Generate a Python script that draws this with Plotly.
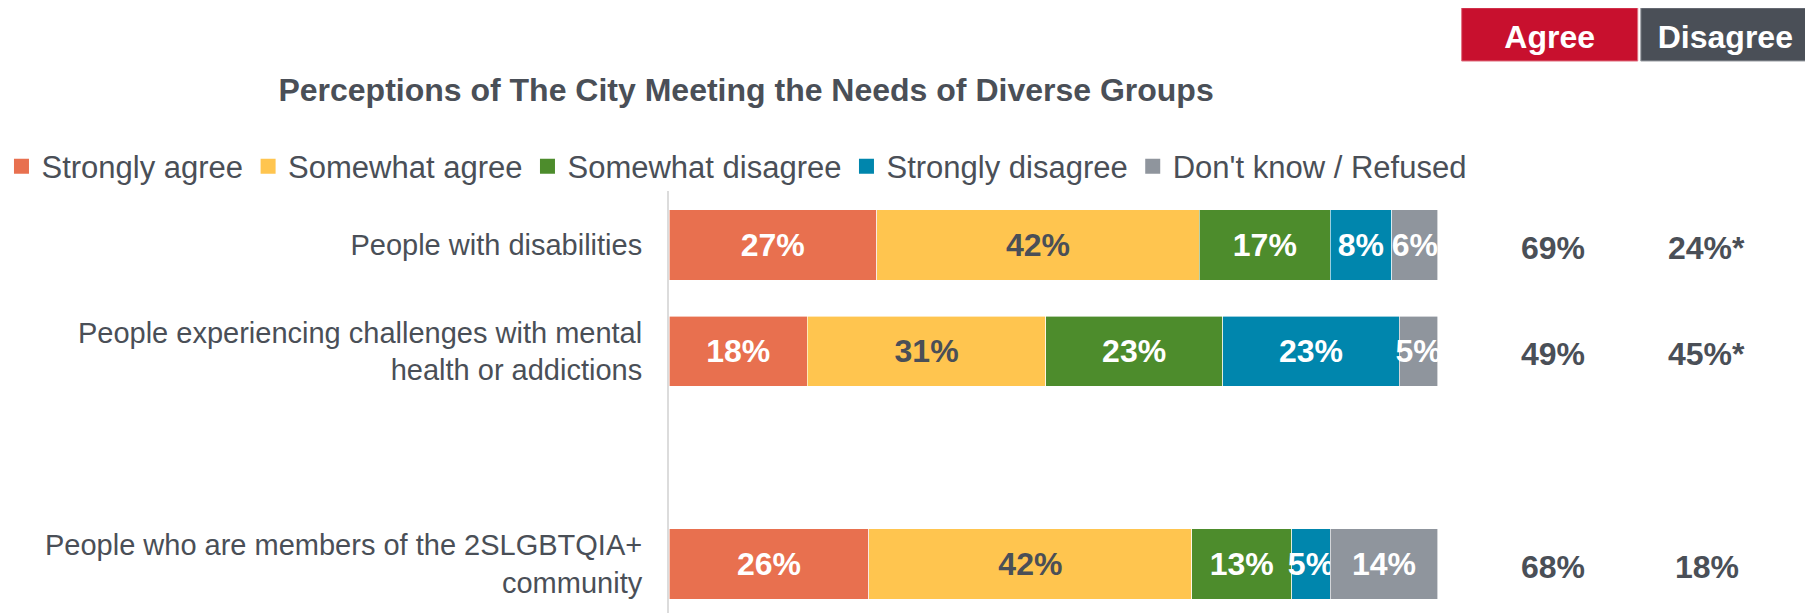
import plotly.graph_objects as go

# rows (top to bottom); slot 2 is left empty as in the original layout
rows = ["People with disabilities",
        "People experiencing challenges with mental<br>health or addictions",
        "People who are members of the 2SLGBTQIA+<br>community"]
row_pos = [0, 1, 3]

strongly_agree = [27, 18, 26]
somewhat_agree = [42, 31, 42]
somewhat_disagree = [17, 23, 13]
strongly_disagree = [8, 23, 5]
dont_know = [6, 5, 14]

agree_net = ["69%", "49%", "68%"]
disagree_net = ["24%*", "45%*", "18%"]

FONT = "Arial, Liberation Sans, sans-serif"
TXT = "#4a4f57"

series = [
    ("Strongly agree", strongly_agree, "#e8704f", "white"),
    ("Somewhat agree", somewhat_agree, "#ffc54f", TXT),
    ("Somewhat disagree", somewhat_disagree, "#4d8c2c", "white"),
    ("Strongly disagree", strongly_disagree, "#0086ad", "white"),
    ("Don't know / Refused", dont_know, "#8f959d", "white"),
]

fig = go.Figure()
for name, vals, color, tcolor in series:
    fig.add_trace(go.Bar(
        name=name, y=row_pos, x=vals, orientation="h",
        marker=dict(color=color, line=dict(color="#ffffff", width=0.6)),
        width=0.66, showlegend=False,
        texttemplate="<b>%{x}%</b>", textposition="inside",
        insidetextanchor="middle", constraintext="none", textangle=0,
        textfont=dict(color=tcolor, size=32, family=FONT),
        hoverinfo="skip",
    ))
    # legend entry with a square swatch
    fig.add_trace(go.Scatter(x=[None], y=[None], mode="markers", name=name,
                             marker=dict(symbol="square", size=15, color=color)))

# net agree / disagree columns
for xcol, labels in ((115, agree_net), (135, disagree_net)):
    for yv, lab in zip(row_pos, labels):
        fig.add_annotation(x=xcol, y=yv, text="<b>%s</b>" % lab, showarrow=False,
                           yshift=-3, font=dict(size=32, color=TXT, family=FONT))

# header boxes
fig.add_shape(type="rect", xref="x", yref="paper", x0=103.1, x1=126.0, y0=1.308, y1=1.434,
              fillcolor="#c8102e", line=dict(color="#e07080", width=1),
              label=dict(text="<b>Agree</b>", font=dict(size=32, color="white", family=FONT)))
fig.add_shape(type="rect", xref="x", yref="paper", x0=126.4, x1=148.4, y0=1.308, y1=1.434,
              fillcolor="#4a4f57", line=dict(color="#9a9ea4", width=1),
              label=dict(text="<b>Disagree</b>", font=dict(size=32, color="white", family=FONT)))

# page body adds an 8px offset, so the figure is 8px smaller than the window
fig.update_layout(
    width=1805, height=605,
    barmode="stack",
    plot_bgcolor="white", paper_bgcolor="white",
    margin=dict(l=661, r=0, t=183, b=0, autoexpand=False),
    font=dict(family=FONT, color=TXT),
    title=dict(text="<b>Perceptions of The City Meeting the Needs of Diverse Groups</b>",
               x=0.4089, xanchor="center", y=0.8645, yanchor="middle",
               font=dict(size=32, color=TXT, family=FONT)),
    showlegend=True,
    legend=dict(orientation="h", x=-0.5835, xanchor="left", y=1.058, yanchor="middle",
                font=dict(size=31, color=TXT, family=FONT), traceorder="normal",
                itemwidth=30, bgcolor="rgba(0,0,0,0)"),
    xaxis=dict(range=[0, 148.8], visible=False, fixedrange=True),
    yaxis=dict(range=[3.46, -0.508], tickvals=row_pos, ticktext=rows,
               ticks="", ticklabelstandoff=19, showgrid=False, zeroline=False,
               showline=True, linecolor="#dcdcdc", linewidth=2,
               tickfont=dict(size=29, color=TXT, family=FONT)),
)

fig.write_html("out.html")
